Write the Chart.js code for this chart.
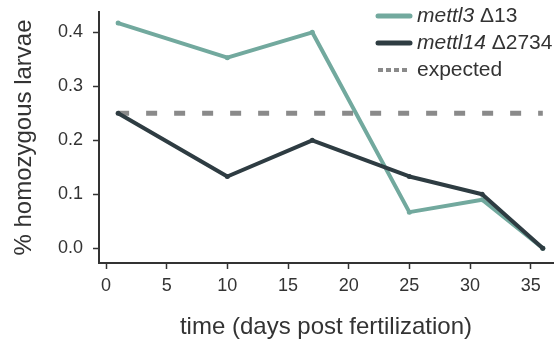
<!DOCTYPE html>
<html>
<head>
<meta charset="utf-8">
<script src="https://cdn.jsdelivr.net/npm/chart.js@4/dist/chart.umd.min.js"></script>
<style>
html,body{margin:0;padding:0;background:#fff;}
#wrap{width:560px;height:344px;position:relative;}
</style>
</head>
<body>
<div id="wrap"><canvas id="c" width="560" height="344"></canvas></div>
<script>
// Data
const daysMettl3 = [1, 10, 17, 25, 31, 36];
const valsMettl3 = [0.417, 0.353, 0.40, 0.067, 0.09, 0.0];
const daysMettl14 = [1, 10, 17, 25, 31, 36];
const valsMettl14 = [0.25, 0.133, 0.20, 0.133, 0.10, 0.0];
const daysExpected = [1, 36];
const valsExpected = [0.25, 0.25];
const xTicks = [0, 5, 10, 15, 20, 25, 30, 35];
const yTicks = [0.0, 0.1, 0.2, 0.3, 0.4];
const legendLabels = [
  {italic: 'mettl3', normal: ' \u039413'},
  {italic: 'mettl14', normal: ' \u03942734'},
  {italic: '', normal: 'expected'}
];

const TEAL = '#72a99e';
const DARK = '#2e3c42';
const GRAY = '#8a8a8a';
const TXT = '#333333';
const FONT = "'Liberation Sans', Arial, sans-serif";

const toXY = (xs, ys) => xs.map((x, i) => ({x: x, y: ys[i]}));

const legendPlugin = {
  id: 'customLegend',
  afterDraw(chart) {
    const ctx = chart.ctx;
    const styles = [
      {color: TEAL, dash: []},
      {color: DARK, dash: []},
      {color: GRAY, dash: [5, 3]}
    ];
    const x0 = 378, x1 = 410, tx = 417;
    const ys = [16, 43, 70];
    ctx.save();
    legendLabels.forEach((lab, i) => {
      const s = styles[i];
      ctx.beginPath();
      ctx.strokeStyle = s.color;
      ctx.lineWidth = s.dash.length ? 4 : 5;
      ctx.lineCap = s.dash.length ? 'butt' : 'round';
      ctx.setLineDash(s.dash);
      ctx.moveTo(x0, ys[i]);
      ctx.lineTo(x1, ys[i]);
      ctx.stroke();
      ctx.setLineDash([]);
      ctx.fillStyle = TXT;
      ctx.textBaseline = 'middle';
      ctx.textAlign = 'left';
      let x = tx;
      if (lab.italic) {
        ctx.font = 'italic 21px ' + FONT;
        ctx.fillText(lab.italic, x, ys[i]);
        x += ctx.measureText(lab.italic).width;
      }
      ctx.font = '21px ' + FONT;
      ctx.fillText(lab.normal, x, ys[i]);
    });
    ctx.restore();
  }
};

new Chart(document.getElementById('c'), {
  type: 'line',
  data: {
    datasets: [
      {
        label: 'expected',
        data: toXY(daysExpected, valsExpected),
        borderColor: GRAY,
        borderWidth: 5,
        borderDash: [11, 17],
        pointRadius: 0,
        order: 3
      },
      {
        label: 'mettl3 \u039413',
        data: toXY(daysMettl3, valsMettl3),
        borderColor: TEAL,
        backgroundColor: TEAL,
        borderWidth: 4,
        pointRadius: 2.5,
        pointBorderWidth: 0,
        borderJoinStyle: 'round',
        borderCapStyle: 'round',
        order: 2
      },
      {
        label: 'mettl14 \u03942734',
        data: toXY(daysMettl14, valsMettl14),
        borderColor: DARK,
        backgroundColor: DARK,
        borderWidth: 4,
        pointRadius: 2.5,
        pointBorderWidth: 0,
        borderJoinStyle: 'round',
        borderCapStyle: 'round',
        order: 1
      }
    ]
  },
  options: {
    responsive: false,
    animation: false,
    devicePixelRatio: 1,
    layout: {padding: {top: 12, right: 7, left: 0, bottom: 0}},
    plugins: {legend: {display: false}, tooltip: {enabled: false}},
    scales: {
      x: {
        type: 'linear',
        min: -0.577,
        max: 36.84,
        afterBuildTicks: (s) => { s.ticks = xTicks.map(v => ({value: v})); },
        afterFit: (s) => { s.height = 81; s.paddingLeft = 0; s.paddingRight = 0; },
        grid: {display: true, drawOnChartArea: false, drawTicks: true, tickLength: 6, tickWidth: 1.5, tickColor: TXT},
        border: {display: true, color: TXT, width: 2},
        ticks: {color: TXT, font: {family: FONT, size: 18}, padding: 6, maxRotation: 0},
        title: {display: true, text: 'time (days post fertilization)', color: TXT, font: {family: FONT, size: 24}, padding: {top: 0, bottom: 2}}
      },
      y: {
        type: 'linear',
        min: -0.0272,
        max: 0.4376,
        afterBuildTicks: (s) => { s.ticks = yTicks.map(v => ({value: v})); },
        afterFit: (s) => { s.width = 99; s.paddingTop = 0; s.paddingBottom = 0; },
        grid: {display: true, drawOnChartArea: false, drawTicks: true, tickLength: 6, tickWidth: 1.5, tickColor: TXT},
        border: {display: true, color: TXT, width: 2},
        ticks: {color: TXT, font: {family: FONT, size: 18}, padding: 10, callback: (v) => Number(v).toFixed(1)},
        title: {display: true, text: '% homozygous larvae', color: TXT, font: {family: FONT, size: 24}, padding: {top: 10, bottom: 0}}
      }
    }
  },
  plugins: [legendPlugin]
});
</script>
</body>
</html>
